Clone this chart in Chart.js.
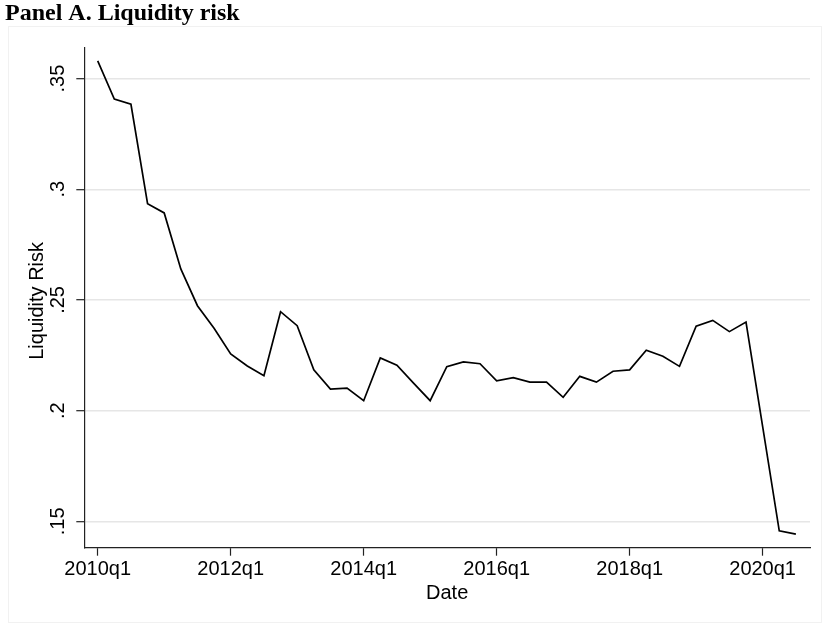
<!DOCTYPE html>
<html>
<head>
<meta charset="utf-8">
<script src="https://cdn.jsdelivr.net/npm/chart.js@4/dist/chart.umd.min.js"></script>
<style>
  html, body { margin: 0; padding: 0; background: #fff; }
  #wrap { width: 829px; height: 629px; position: relative; }
  canvas { display: block; }
</style>
</head>
<body>
<div id="wrap"><canvas id="c" width="829" height="629"></canvas></div>
<script>
// Quarterly liquidity risk, 2010q1 - 2020q3
const quarters = [
  '2010q1','2010q2','2010q3','2010q4',
  '2011q1','2011q2','2011q3','2011q4',
  '2012q1','2012q2','2012q3','2012q4',
  '2013q1','2013q2','2013q3','2013q4',
  '2014q1','2014q2','2014q3','2014q4',
  '2015q1','2015q2','2015q3','2015q4',
  '2016q1','2016q2','2016q3','2016q4',
  '2017q1','2017q2','2017q3','2017q4',
  '2018q1','2018q2','2018q3','2018q4',
  '2019q1','2019q2','2019q3','2019q4',
  '2020q1','2020q2','2020q3'
];
const liquidityRisk = [
  0.358, 0.3407, 0.3384, 0.2935,
  0.2893, 0.264, 0.2474, 0.2372,
  0.2256, 0.2202, 0.2158, 0.2447,
  0.2384, 0.2184, 0.2097, 0.2102,
  0.2045, 0.2238, 0.2205, 0.2124,
  0.2045, 0.2199, 0.222, 0.2212,
  0.2135, 0.2149, 0.2129, 0.2129,
  0.206, 0.2155, 0.2129, 0.2178,
  0.2184, 0.2273, 0.2246, 0.22,
  0.2382, 0.2408, 0.2357, 0.24,
  0.1929, 0.1457, 0.1442
];
const xTickLabels = ['2010q1','2012q1','2014q1','2016q1','2018q1','2020q1'];
const yTickValues = [0.15, 0.2, 0.25, 0.3, 0.35];
const yTickLabels = ['.15', '.2', '.25', '.3', '.35'];

const titleText = 'Panel A. Liquidity risk';
const xTitle = 'Date';
const yTitle = 'Liquidity Risk';

const points = liquidityRisk.map((v, i) => ({ x: i, y: v }));
const sansFont = '"Liberation Sans", Arial, Helvetica, sans-serif';

// Title, axis titles, rotated y tick labels and faint outer frame
const decorations = {
  id: 'decorations',
  beforeDraw(chart) {
    const ctx = chart.ctx;
    ctx.save();
    ctx.strokeStyle = '#f1f1f1';
    ctx.lineWidth = 1;
    ctx.strokeRect(8.5, 26.5, 813, 596);
    ctx.restore();
  },
  afterDraw(chart) {
    const ctx = chart.ctx;
    const area = chart.chartArea;
    const yScale = chart.scales.y;
    ctx.save();
    ctx.fillStyle = '#000';
    ctx.font = 'bold 24px "Liberation Serif", "Times New Roman", serif';
    ctx.textAlign = 'left';
    ctx.textBaseline = 'alphabetic';
    ctx.fillText(titleText, 5, 20);

    ctx.font = '20px ' + sansFont;
    ctx.textAlign = 'center';
    ctx.textBaseline = 'middle';
    yTickValues.forEach((v, i) => {
      const py = yScale.getPixelForValue(v);
      ctx.save();
      ctx.translate(58, py);
      ctx.rotate(-Math.PI / 2);
      ctx.fillText(yTickLabels[i], 0, 0);
      ctx.restore();
    });

    ctx.save();
    ctx.translate(37, (area.top + area.bottom) / 2 + 3);
    ctx.rotate(-Math.PI / 2);
    ctx.fillText(yTitle, 0, 0);
    ctx.restore();

    ctx.fillText(xTitle, (area.left + area.right) / 2, 593);
    ctx.restore();
  }
};

new Chart(document.getElementById('c'), {
  type: 'line',
  data: {
    datasets: [{
      data: points,
      borderColor: '#000',
      borderWidth: 1.7,
      pointRadius: 0,
      tension: 0,
      fill: false
    }]
  },
  options: {
    responsive: false,
    animation: false,
    layout: { padding: { top: 48, right: 19, left: 0, bottom: 0 } },
    plugins: {
      legend: { display: false },
      tooltip: { enabled: false },
      title: { display: false }
    },
    scales: {
      x: {
        type: 'linear',
        min: -0.806,
        max: 42.85,
        afterBuildTicks(scale) {
          scale.ticks = xTickLabels.map(l => ({ value: quarters.indexOf(l) }));
        },
        afterFit(scale) { scale.height = 81.3; },
        grid: {
          drawOnChartArea: false,
          drawTicks: true,
          tickLength: 8,
          tickColor: '#222',
          tickWidth: 1.2
        },
        border: { display: true, color: '#222', width: 1.2 },
        ticks: {
          autoSkip: false,
          maxRotation: 0,
          minRotation: 0,
          padding: 2,
          color: '#000',
          font: { family: sansFont, size: 20 },
          callback: (v) => quarters[v]
        }
      },
      y: {
        type: 'linear',
        min: 0.1381,
        max: 0.3638,
        afterBuildTicks(scale) {
          scale.ticks = yTickValues.map(v => ({ value: v }));
        },
        afterFit(scale) { scale.width = 84.3; },
        grid: {
          color: '#e6e6e6',
          lineWidth: 1.4,
          drawTicks: true,
          tickLength: 8,
          tickColor: '#222',
          tickWidth: 1.2
        },
        border: { display: true, color: '#222', width: 1.2 },
        ticks: { display: false }
      }
    }
  },
  plugins: [decorations]
});
</script>
</body>
</html>
